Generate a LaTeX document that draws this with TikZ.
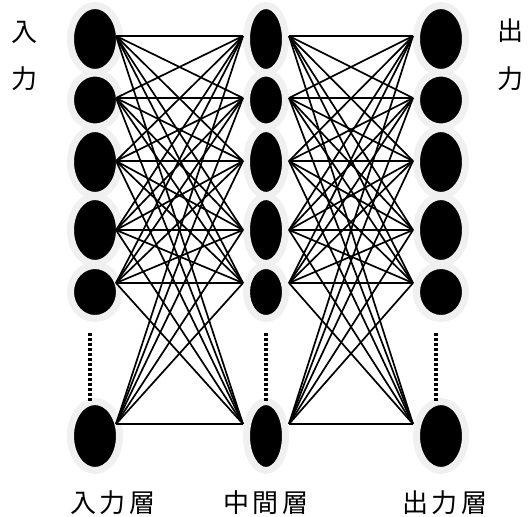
\documentclass[tikz,border=0pt]{standalone}
\usepackage{fontspec}
\usepackage{amsmath}
\usetikzlibrary{shapes.geometric}
\newfontfamily\cjk[LetterSpace=15]{Noto Sans CJK JP}
\definecolor{ringgray}{RGB}{240,240,240}

\begin{document}
\begin{tikzpicture}[x=1pt, y=-1pt,
    neuron/.style={ellipse, fill=black, draw=ringgray, line width=7pt, inner sep=0pt, outer sep=0pt},
    link/.style={line width=1.7pt},
    vdots/.style={line width=3.2pt, dash pattern=on 3pt off 2pt},
    lbl/.style={font=\cjk\fontsize{26}{26}\selectfont, inner sep=0pt}]
    \useasboundingbox (0,0) rectangle (531,517);
    % Neuronen: Nummer / Mitte y / Hoehe / Anschluss y
    \foreach \n/\y/\h/\a in {1/39/60/36, 2/100/47/98, 3/162/60/161, 4/230/60/230, 5/292/46/283, 6/436/62/424} {
        \node[neuron, minimum width=49pt, minimum height=\h pt+7pt] (i\n) at (95,\y) {}; % Eingabe
        \node[neuron, minimum width=39pt, minimum height=\h pt+7pt] (m\n) at (266,\y) {}; % Mitte
        \node[neuron, minimum width=49pt, minimum height=\h pt+7pt] (o\n) at (441,\y) {}; % Ausgabe
        \coordinate (ir\n) at (116,\a);
        \coordinate (ml\n) at (243,\a);
        \coordinate (mr\n) at (289,\a);
        \coordinate (ol\n) at (413,\a);
    }
    % Verbindungen:
    \foreach \p in {1,...,6} {
        \foreach \q in {1,...,6} {
            \draw[link] (ir\p) -- (ml\q);
            \draw[link] (mr\p) -- (ol\q);
        }
    }
    % Punkte:
    \draw[vdots] ([shift={(-5,14.5)}]i5.south) -- ([shift={(-5,0.5)}]i6.north);
    \draw[vdots] ([shift={(0,14.5)}]m5.south) -- ([shift={(0,0.5)}]m6.north);
    \draw[vdots] ([shift={(-5,14.5)}]o5.south) -- ([shift={(-5,0.5)}]o6.north);
    % Beschriftung:
    \node[lbl] (in1) at (25,32) {入};
    \node[lbl] (in2) at (25,79) {力};
    \node[lbl] (out1) at (510,31) {出};
    \node[lbl] (out2) at (510,79) {力};
    \node[lbl] (ilayer) at (113,503) {入力層};
    \node[lbl] (mlayer) at (266,503) {中間層};
    \node[lbl] (olayer) at (445,503) {出力層};
\end{tikzpicture}
\end{document}
